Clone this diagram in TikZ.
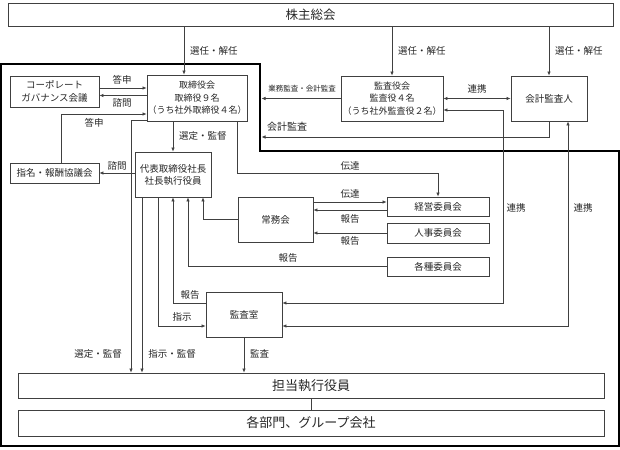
\documentclass[tikz,border=0pt]{standalone}
\usepackage{fontspec}
\setmainfont{Noto Sans CJK JP}
\usetikzlibrary{arrows.meta}
\begin{document}
\begin{tikzpicture}[x=1pt,y=-1pt,
  box/.style={draw=black!75, line width=0.8pt, inner sep=0pt, align=center, text=black!85, font=\fontsize{9.5}{12.5}\selectfont},
  arr/.style={draw=black!75, line width=0.7pt, -{Latex[length=4pt,width=3.5pt]}},
  arrb/.style={draw=black!75, line width=0.7pt, {Latex[length=4pt,width=3.5pt]}-{Latex[length=4pt,width=3.5pt]}},
  ln/.style={draw=black!75, line width=0.7pt},
  lbl/.style={inner sep=0pt, font=\fontsize{9.5}{11}\selectfont, text=black!85},
  frame/.style={draw=black, line width=1.6pt}]
\useasboundingbox (0,0) rectangle (620,449);

% frame
\coordinate (f1) at (1,64);
\coordinate (f2) at (260,64);
\coordinate (f3) at (260,151);
\coordinate (f4) at (619,151);
\coordinate (f5) at (619,446);
\coordinate (f6) at (1,446);
\draw[frame] (f1) -- (f2) -- (f3) -- (f4) -- (f5) -- (f6) -- cycle;

% nodes
\node[box, minimum width=605pt, minimum height=23pt, font=\fontsize{12.5}{14}\selectfont] (sh) at (310.5,14.5) {株主総会};
\node[box, minimum width=89pt, minimum height=31pt] (cg) at (54.5,91.5) {コーポレート\\ガバナンス会議};
\node[box, minimum width=100pt, minimum height=46pt, font=\fontsize{9}{12.5}\selectfont] (tb) at (197,98) {取締役会\\取締役９名\\（うち社外取締役４名）};
\node[box, minimum width=102pt, minimum height=45pt, font=\fontsize{9}{12.5}\selectfont] (ka) at (392,98.5) {監査役会\\監査役４名\\（うち社外監査役２名）};
\node[box, minimum width=76pt, minimum height=45pt] (kk) at (549,98.5) {会計監査人};
\node[box, minimum width=89pt, minimum height=20pt] (sm) at (54.5,173) {指名・報酬協議会};
\node[box, minimum width=76pt, minimum height=45pt, font=\fontsize{9.5}{12}\selectfont] (dh) at (173,174.5) {代表取締役社長\\社長執行役員};
\node[box, minimum width=75pt, minimum height=45pt] (jm) at (275.5,219.5) {常務会};
\node[box, minimum width=102pt, minimum height=19pt] (ke) at (438,206.5) {経営委員会};
\node[box, minimum width=102pt, minimum height=20pt] (jj) at (438,233) {人事委員会};
\node[box, minimum width=102pt, minimum height=19pt] (kc) at (438,266.5) {各種委員会};
\node[box, minimum width=76pt, minimum height=45pt] (ks) at (244,314.5) {監査室};
\node[box, minimum width=586pt, minimum height=25pt, font=\fontsize{13}{15}\selectfont] (tt) at (311,385.5) {担当執行役員};
\node[box, minimum width=586pt, minimum height=26pt, font=\fontsize{13}{15}\selectfont] (bm) at (311,423) {各部門、グループ会社};

% shareholders
\coordinate (a1) at ([xshift=-13pt]tb.north);
\draw[arr] (sh.south -| a1) -- (a1);
\draw[arr] (sh.south -| ka.north) -- (ka.north);
\draw[arr] (sh.south -| kk.north) -- (kk.north);
\node[lbl, anchor=west] (l1) at (190,51) {選任・解任};
\node[lbl, anchor=west] (l2) at (398,51) {選任・解任};
\node[lbl, anchor=west] (l3) at (555,51) {選任・解任};

% corporate governance
\coordinate (c4a) at ([yshift=3.5pt]cg.east);
\coordinate (c4b) at ([yshift=-4pt]cg.east);
\draw[arr] (c4a) -- (c4a -| tb.west);
\draw[arr] (c4b -| tb.west) -- (c4b);
\node[lbl] (l4) at (122,80) {答申};
\node[lbl] (l5) at (122,103) {諮問};

% nomination committee
\coordinate (c5) at (61,114);
\draw[arr] (sm.north -| c5) -- (c5) -- (c5 -| tb.west);
\node[lbl] (l6) at (94,123) {答申};
\draw[arr] (sm.east -| dh.west) -- (sm.east);
\node[lbl] (l7) at (117,166) {諮問};

% board to executives
\coordinate (c6) at (131,120);
\draw[arr] (c6 -| tb.west) -- (c6) -- (c6 |- tt.north);
\node[lbl] (l8) at (98,354) {選定・監督};
\draw[arr] (tb.south -| dh.north) -- (dh.north);
\node[lbl, anchor=west] (l9) at (179,136) {選定・監督};

\coordinate (c9) at (237,173);
\draw[arr] (c9 |- tb.south) -- (c9) -| (ke.north);
\node[lbl] (l10) at (350,166) {伝達};

% jomukai and committees
\coordinate (c10) at (0,202);
\coordinate (c11) at (0,210);
\draw[arr] (c10 -| jm.east) -- (c10 -| ke.west);
\draw[arr] (c11 -| ke.west) -- (c11 -| jm.east);
\draw[arr] (jj.west) -- (jj.west -| jm.east);
\node[lbl] (l11) at (350,194) {伝達};
\node[lbl] (l12) at (350,219) {報告};
\node[lbl] (l13) at (350,241) {報告};

\coordinate (c13) at ([xshift=30pt]dh.south);
\draw[arr] (jm.west) -| (c13);
\coordinate (c14) at ([xshift=15pt]dh.south);
\draw[arr] (kc.west) -| (c14);
\node[lbl] (l14) at (288,258) {報告};

% audit office
\coordinate (c15) at ([yshift=11.5pt]ks.west);
\draw[arr] (c15) -| (dh.south);
\node[lbl] (l15) at (190,295) {報告};
\coordinate (c16) at ([xshift=-15pt]dh.south);
\coordinate (c16b) at ([yshift=-11.5pt]ks.west);
\draw[arr] (c16) |- (c16b);
\node[lbl] (l16) at (182,317) {指示};
\coordinate (c17) at ([xshift=-31pt]dh.south);
\draw[arr] (c17) -- (c17 |- tt.north);
\node[lbl] (l17) at (172,354) {指示・監督};
\draw[arr] (ks.south) -- (ks.south |- tt.north);
\node[lbl, anchor=west] (l18) at (250,354) {監査};
\draw[ln] (tt.south) -- (bm.north);

% auditors
\coordinate (ft) at (261.5,0);
\draw[arr] (ka.west) -- (ka.west -| ft);
\node[lbl, font=\fontsize{7.5}{9}\selectfont] (l19) at (302,89) {業務監査・会計監査};
\coordinate (c21) at (0,137);
\draw[arr] (kk.south) |- (c21 -| ft);
\node[lbl, font=\fontsize{10}{11}\selectfont] (l20) at (287,127) {会計監査};
\draw[arrb] (ka.east) -- (kk.west);
\node[lbl] (l21) at (477,89) {連携};
\coordinate (c23) at (503,110);
\coordinate (c23b) at ([yshift=11.5pt]ks.east);
\draw[arrb] (c23b) -| (c23) -- (c23 -| ka.east);
\node[lbl] (l22) at (516,208) {連携};
\coordinate (c24) at ([xshift=19pt]kk.south);
\coordinate (c24b) at ([yshift=-11.5pt]ks.east);
\draw[arrb] (c24b) -| (c24);
\node[lbl] (l23) at (583,208) {連携};
\end{tikzpicture}
\end{document}
